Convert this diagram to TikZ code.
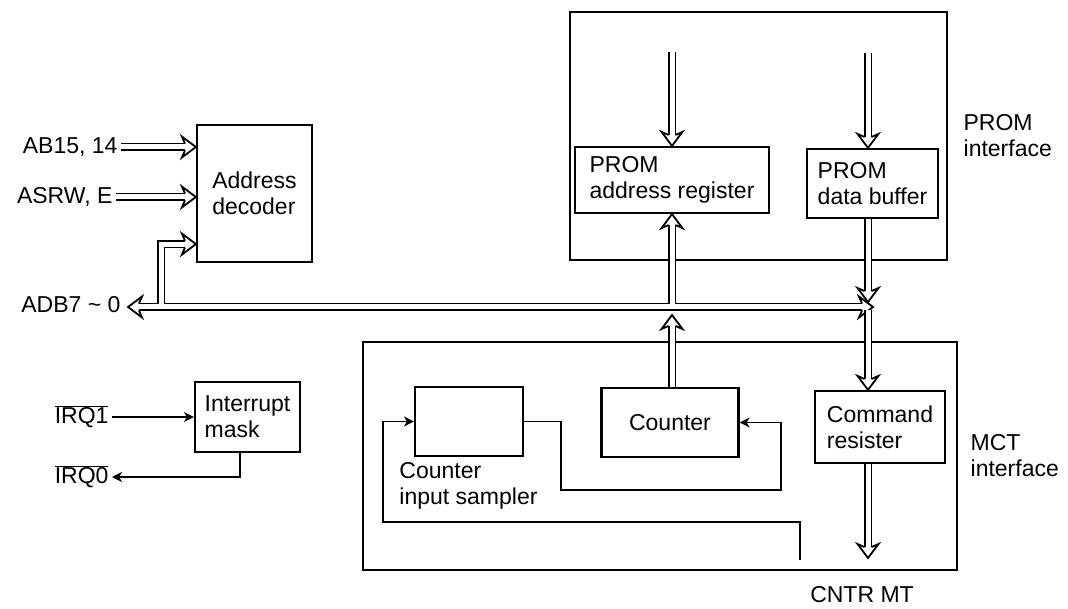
\documentclass[tikz,border=0pt]{standalone}
\usepackage{fontspec}
\setmainfont{Liberation Sans}
\usetikzlibrary{arrows.meta,positioning,calc}

% open head for the double bus lines
\pgfdeclarearrow{
  name = BusTip,
  parameters = {\the\pgfarrowlength,\the\pgfarrowwidth},
  setup code = {
    \pgfarrowssettipend{0pt}
    \pgfarrowssetlineend{-.78\pgfarrowlength}
    \pgfarrowssetbackend{-\pgfarrowlength}
    \pgfarrowshullpoint{0pt}{0pt}
    \pgfarrowsupperhullpoint{-\pgfarrowlength}{.5\pgfarrowwidth}
    \pgfarrowssavethe\pgfarrowlength
    \pgfarrowssavethe\pgfarrowwidth
  },
  drawing code = {
    \pgfsetlinewidth{1.8pt}
    \pgfsetdash{}{0pt}
    \pgfsetmiterjoin
    \pgfsetfillcolor{white}
    \pgfpathmoveto{\pgfqpoint{-.78\pgfarrowlength}{3.4pt}}
    \pgfpathlineto{\pgfqpoint{-\pgfarrowlength}{.5\pgfarrowwidth}}
    \pgfpathlineto{\pgfqpoint{0pt}{0pt}}
    \pgfpathlineto{\pgfqpoint{-\pgfarrowlength}{-.5\pgfarrowwidth}}
    \pgfpathlineto{\pgfqpoint{-.78\pgfarrowlength}{-3.4pt}}
    \pgfusepathqfillstroke
  },
  defaults = {length=14pt, width=21pt}
}

\begin{document}
\begin{tikzpicture}[x=1pt,y=-1pt]
        % Define styles
        \tikzstyle{blk} = [rectangle, draw, line width=2.2pt, align=left, font=\fontsize{23}{26}\selectfont]
        \tikzstyle{frame} = [rectangle, draw, line width=2.2pt]
        \tikzstyle{lbl} = [align=left, font=\fontsize{23}{26}\selectfont]
        \tikzstyle{bus} = [double, double distance=5pt, line width=1.8pt, -{BusTip}]
        \tikzstyle{wire} = [line width=1.6pt, -{Stealth[length=10pt,width=10pt,inset=3pt]}]

        \useasboundingbox (0,0) rectangle (1068,609);

        % Interface frames
        \node (promif) [frame, minimum width=377pt, minimum height=248pt] at (758.5,136) {};
        \node (mctif) [frame, minimum width=594pt, minimum height=228pt] at (660,456) {};
        \node (promlbl) [lbl, right=12pt of promif.east] {PROM\\interface};
        \node (mctlbl) [lbl, right=9pt of mctif.east] {MCT\\interface};

        % Blocks
        \node (dec) [blk, minimum width=115pt, minimum height=137pt] at (254.5,193.5) {Address\\decoder};
        \node (mask) [blk, minimum width=105pt, minimum height=70pt] at (247.5,417) {Interrupt\\mask};
        \node (areg) [blk, minimum width=194pt, minimum height=66pt] at (672,180) {PROM\\address register};
        \node (dbuf) [blk, minimum width=131pt, minimum height=69pt] at (872.5,183.5) {PROM\\data buffer};
        \node (smp) [blk, minimum width=108pt, minimum height=69pt] at (469,421.5) {};
        \node (cnt) [blk, minimum width=137pt, minimum height=69pt] at (670,422.5) {Counter};
        \node (creg) [blk, minimum width=130pt, minimum height=72pt] at (880,427) {Command\\resister};
        \node (smplbl) [lbl, anchor=north west] at ($(smp.south west)+(-18,2)$) {Counter\\input sampler};

        % Signal names
        \node (ab) [lbl, anchor=east] at (121,147) {AB15, 14};
        \node (asrw) [lbl, anchor=east] at (116,197) {ASRW, E};
        \node (adb) [lbl, anchor=east] at (124,305) {ADB7 \textasciitilde\ 0};
        \node (irq1) [lbl, anchor=east] at (112,417) {$\overline{\hbox{IRQ1}}$};
        \node (irq0) [lbl, anchor=east] at (112,477) {$\overline{\hbox{IRQ0}}$};
        \node (cntr) [lbl] at (862,595) {CNTR MT};

        % Free ends
        \coordinate (busL) at (128,307);
        \coordinate (busR) at (873,307);
        \coordinate (br) at (161,304.3);
        \coordinate (d3) at ($(dec.south west)+(0,-19)$);
        \coordinate (atop) at (672,52);
        \coordinate (dtop) at (868,53);
        \coordinate (mtin) at (800,560);
        \coordinate (mtout) at (868,558);

        % Data bus
        \draw[bus, {BusTip}-{BusTip}] (busR) -- (busL);
        \draw[bus] (br) |- (d3);
        \draw[bus] ($(areg.south |- busL)+(0,-2.7)$) -- (areg.south);
        \draw[bus] (cnt.north -| areg.south) -- ($(areg.south |- busL)+(0,8)$);
        \draw[bus] (dbuf.south -| dtop) -- ($(dtop |- busR)+(0,-5)$);
        \draw[bus] ($(dtop |- busR)+(0,2.7)$) -- (creg.north -| dtop);
        \draw[bus] (creg.south -| dtop) -- (mtout);

        % Other buses
        \draw[bus] (ab) -- (dec.west |- ab);
        \draw[bus] (asrw) -- (dec.west |- asrw);
        \draw[bus] (atop) -- (areg.north);
        \draw[bus] (dtop) -- (dtop |- dbuf.north);

        % Single lines
        \draw[wire] (irq1) -- (mask);
        \draw[wire] ($(mask.south)+(-7.5,0)$) |- (irq0);
        \draw[wire] (smp.east) -- ++(37,0) -- ++(0,68.5) -- ++(220,0) |- (cnt.east);
        \draw[wire] (mtin) -- ++(0,-38) -| ($(smp.west)+(-31,0)$) -- (smp.west);

\end{tikzpicture}
\end{document}
